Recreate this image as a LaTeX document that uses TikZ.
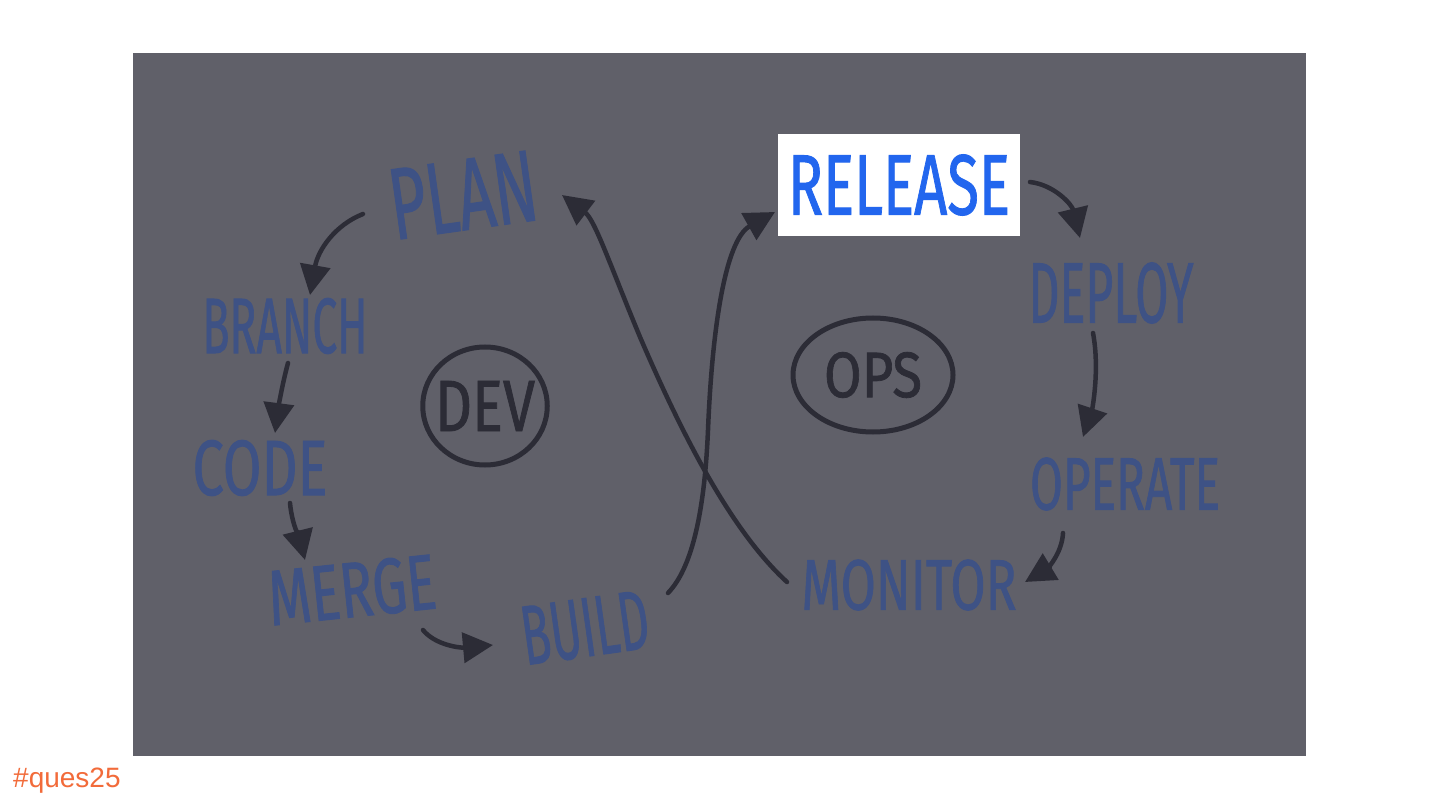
\documentclass[tikz,border=0pt]{standalone}
\usepackage{fontspec}
\usetikzlibrary{arrows.meta,calc,shapes.geometric}
\newfontfamily\handfont{Fira Sans}[FakeBold=1.2]
\newfontfamily\tagfont{Liberation Sans}
\definecolor{bggray}{HTML}{606069}
\definecolor{inkblue}{HTML}{3E5285}
\definecolor{inkdark}{HTML}{2C2C36}
\definecolor{relblue}{HTML}{2266EE}
\definecolor{tagorange}{HTML}{F26B3A}
\tikzset{
  lbl/.style={inner sep=0pt, text=inkblue, font=\handfont},
  loopring/.style={ellipse, draw=inkdark, line width=5pt, inner sep=-6pt},
  arr/.style={draw=inkdark, line width=4.5pt, line cap=round,
    -{Triangle[length=30pt,width=30pt]}},
}
\begin{document}
\begin{tikzpicture}[x=1pt,y=-1pt]
\useasboundingbox (0,0) rectangle (1440,810);
\fill[white] (0,0) rectangle (1440,810);
\fill[bggray] (133,53) rectangle (1306,756);

% DEV side
\node[lbl, rotate=8] (plan) at (463,195) {\resizebox{148pt}{70pt}{PLAN}};
\node[lbl] (branch) at (285,326) {\resizebox{165pt}{55pt}{BRANCH}};
\node[lbl] (code) at (260,468) {\resizebox{135pt}{55pt}{CODE}};
\node[lbl, rotate=6] (merge) at (352,590) {\resizebox{168pt}{55pt}{MERGE}};
\node[lbl, rotate=8] (build) at (585,628) {\resizebox{128pt}{58pt}{BUILD}};
\node[loopring, minimum width=124pt, minimum height=118pt] (dev) at (485,406)
  {\color{inkdark}\handfont\resizebox{100pt}{50pt}{DEV}};

% OPS side
\node[fill=white, minimum width=242pt, minimum height=102pt, inner sep=0pt,
  text=relblue, font=\handfont] (release) at (899,185) {\resizebox{222pt}{60pt}{RELEASE}};
\node[lbl] (deploy) at (1111,293) {\resizebox{165pt}{60pt}{DEPLOY}};
\node[lbl] (operate) at (1125,484) {\resizebox{190pt}{52pt}{OPERATE}};
\node[lbl] (monitor) at (909,585) {\resizebox{215pt}{50pt}{MONITOR}};
\node[loopring, minimum width=160pt, minimum height=114pt] (ops) at (873,375)
  {\color{inkdark}\handfont\resizebox{98pt}{45pt}{OPS}};

% connectors
\draw[arr] ($(plan.center)+(-100,19)$) .. controls (335,225) and (318,250) .. ($(branch.center)+(25,-31)$);
\draw[arr] ($(branch.center)+(3,37)$) .. controls (282,385) and (278,410) .. ($(code.center)+(15,-35)$);
\draw[arr] ($(code.center)+(30,35)$) .. controls (292,525) and (300,540) .. ($(merge.center)+(-47,-30)$);
\draw[arr] ($(merge.center)+(71,40)$) .. controls (435,645) and (460,648) .. ($(build.center)+(-92,17)$);
\draw[arr] ($(build.center)+(83,-35)$) .. controls (695,565) and (705,500) .. (708,430)
  .. controls (712,330) and (725,240) .. ($(release.center)+(-124,27)$);
\draw[arr] ($(monitor.center)+(-122,-3)$) .. controls (730,530) and (680,430) .. (640,337)
  .. controls (610,265) and (595,220) .. ($(plan.center)+(99,0)$);
\draw[arr] ($(release.center)+(131,-3)$) .. controls (1055,185) and (1072,205) .. ($(deploy.center)+(-31,-55)$);
\draw[arr] ($(deploy.center)+(-18,40)$) .. controls (1100,370) and (1092,410) .. ($(operate.center)+(-42,-47)$);
\draw[arr] ($(operate.center)+(-62,49)$) .. controls (1062,555) and (1045,570) .. ($(monitor.center)+(116,-3)$);

% tag
\node[anchor=base west, inner sep=0pt, text=tagorange, font=\tagfont\fontsize{28}{30}\selectfont] (tag) at (13,787) {\#ques25};
\end{tikzpicture}
\end{document}
